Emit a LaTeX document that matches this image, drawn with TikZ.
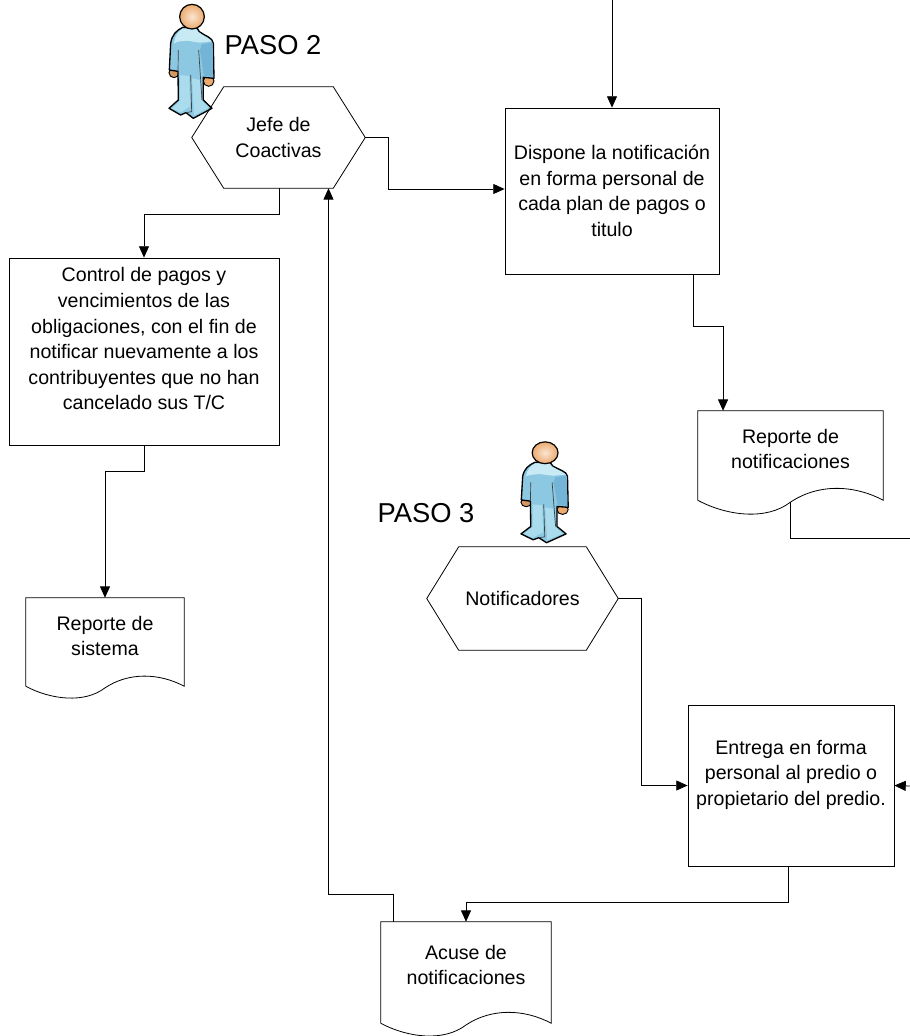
\documentclass[tikz,border=0pt]{standalone}
\usepackage{fontspec}
\setmainfont{Liberation Sans}
\usetikzlibrary{arrows.meta,calc}
\definecolor{skin}{RGB}{236,170,110}
\definecolor{suit}{RGB}{140,200,226}
\definecolor{suitlt}{RGB}{200,234,244}
\definecolor{suitdk}{RGB}{115,180,215}
\definecolor{suitleg}{RGB}{170,220,238}
\tikzset{
  lbl/.style={font=\fontsize{14.7}{19.2}\selectfont,align=center,inner sep=0pt},
  procbox/.style={lbl,draw,line width=.6pt,rectangle},
  blank/.style={lbl,rectangle},
  paso/.style={font=\fontsize{20.5}{24}\selectfont,inner sep=0pt},
  conn/.style={line width=.6pt},
  arr/.style={line width=.6pt,-{Triangle[length=8.5pt,width=7.5pt]}},
  shapeline/.style={line width=.6pt},
}
\newcommand{\hexa}[2]{% node name, slant in pt
  \draw[shapeline] (#1.west) -- ([xshift=#2]#1.north west) -- ([xshift=-#2]#1.north east)
    -- (#1.east) -- ([xshift=-#2]#1.south east) -- ([xshift=#2]#1.south west) -- cycle;}
\newcommand{\docu}[3]{% node name, width, offset below node in px
  \draw[shapeline] ([yshift=-#3*.75pt]#1.south west) -- (#1.north west) -- (#1.north east)
    -- ([yshift=-#3*.75pt]#1.south east)
    .. controls +(-.16*#2,.085*#2) and +(.15*#2,.1*#2) .. ([yshift=-#3*.75pt-.01*#2]#1.south)
    .. controls +(-.13*#2,-.1*#2) and +(.16*#2,-.085*#2) .. ([yshift=-#3*.75pt]#1.south west);}
\newcommand{\personfig}{%
  \filldraw[fill=skin!90!black,draw=black,line width=.7pt] (72,218) circle (15);
  \filldraw[fill=skin,draw=black,line width=.7pt] (176,243) circle (16);
  \filldraw[fill=suit,draw=black,line width=1pt,line join=round] (98,82) .. controls (78,92) and (66,105) .. (62,130)
    -- (58,210) -- (84,214) -- (85,300) -- (57,325) -- (92,345) -- (108,338) -- (130,355)
    -- (186,325) -- (160,300) -- (160,232) -- (192,235) -- (190,130)
    .. controls (188,112) and (165,108) .. (148,95) -- (140,82) -- cycle;
  \fill[suitlt] (98,86) .. controls (84,95) and (74,108) .. (72,130) -- (84,125) -- (110,122)
    -- (150,128) -- (186,124) .. controls (172,112) and (160,108) .. (145,96) -- (137,86) -- cycle;
  \fill[suitdk] (156,132) -- (188,128) -- (189,230) -- (162,228) -- (150,150) -- cycle;
  \fill[suitleg] (90,225) -- (118,228) -- (120,320) -- (90,338) -- (66,325) -- (90,302) -- cycle;
  \fill[suitleg] (126,235) -- (150,240) -- (154,300) -- (176,324) -- (132,346) -- cycle;
  \draw[black!75,line width=.5pt] (122,225) -- (125,335) -- (108,338);
  \draw[black!75,line width=.5pt] (85,150) -- (84,214);
  \draw[black!75,line width=.5pt] (146,150) -- (152,240) -- (156,300);
  \draw[red!60!orange!80,line width=1pt] (105,80) .. controls (116,87) and (134,87) .. (146,79);
  \shade[inner color=skin!30!white,outer color=skin,draw=black,line width=.9pt] (126,50) circle (37);
}
\begin{document}
\begin{tikzpicture}[x=.75pt,y=-.75pt]
\useasboundingbox (0,0) rectangle (910,1036);
\clip (0,0) rectangle (910,1036);
% persons
\begin{scope}[shift={(150,0)},scale=.3333]\personfig\end{scope}
\begin{scope}[shift={(501,438)},xscale=.35,yscale=.295]\personfig\end{scope}
% labels
\node[paso] (p2) at (273,45) {PASO 2};
\node[paso] (p3) at (426,513) {PASO 3};
% hexagons
\node[blank,minimum width=173*.75pt,minimum height=101*.75pt] (jefe) at (278.5,137.5) {Jefe de\\Coactivas};
\hexa{jefe}{24pt}
\node[blank,minimum width=191*.75pt,minimum height=103*.75pt] (notif) at (522.5,598.5) {Notificadores};
\hexa{notif}{24pt}
% boxes
\node[procbox,minimum width=214*.75pt,minimum height=166*.75pt] (disp) at (612,191) {Dispone la notificación\\en forma personal de\\cada plan de pagos o\\titulo};
\node[procbox,minimum width=270*.75pt,minimum height=187*.75pt] (ctrl) at (144,351.5) {Control de pagos y\\vencimientos de las\\obligaciones, con el fin de\\notificar nuevamente a los\\contribuyentes que no han\\cancelado sus T/C\\~};
\node[procbox,minimum width=206*.75pt,minimum height=161*.75pt] (entr) at (791,785.5) {Entrega en forma\\personal al predio o\\propietario del predio.\\~};
% documents
\node[blank,minimum width=185*.75pt,minimum height=76*.75pt] (rnot) at (790.5,449) {Reporte de\\notificaciones};
\docu{rnot}{138.75pt}{13}
\node[blank,minimum width=158*.75pt,minimum height=76*.75pt] (rsis) at (105,636) {Reporte de\\sistema};
\docu{rsis}{118.5pt}{12}
\node[blank,minimum width=170*.75pt,minimum height=86*.75pt] (acu) at (466,965) {Acuse de\\notificaciones};
\docu{acu}{127.5pt}{15}
% free ends
\coordinate (top) at (612,-2);
\coordinate (redge) at (912,538);
\coordinate (redge2) at (910,786);
% connectors
\draw[arr] (top) -- (disp.north);
\draw[arr] (jefe.east) -- ++(23,0) |- (disp.west |- 0,189);
\draw[arr] ([xshift=.375pt]jefe.south) -- ++(0,26) -| (ctrl.north);
\draw[arr] (ctrl.south) -- ++(0,26) -| (rsis.north);
\draw[arr] ([xshift=60.75pt]disp.south) -- ++(0,52) -| ([xshift=-50.6pt]rnot.north);
\draw[conn] (rnot.south) ++(0,15) |- (redge);
\draw[arr] (notif.east) -- ++(23,0) |- (entr.west);
\draw[arr] (redge2) -- (entr.east);
\draw[arr] ([xshift=-2.25pt]entr.south) -- ++(0,36) -| (acu.north);
\draw[arr] ([xshift=-54.75pt]acu.north) -- ++(0,-27) -| ([xshift=37.5pt]jefe.south);
\end{tikzpicture}
\end{document}
